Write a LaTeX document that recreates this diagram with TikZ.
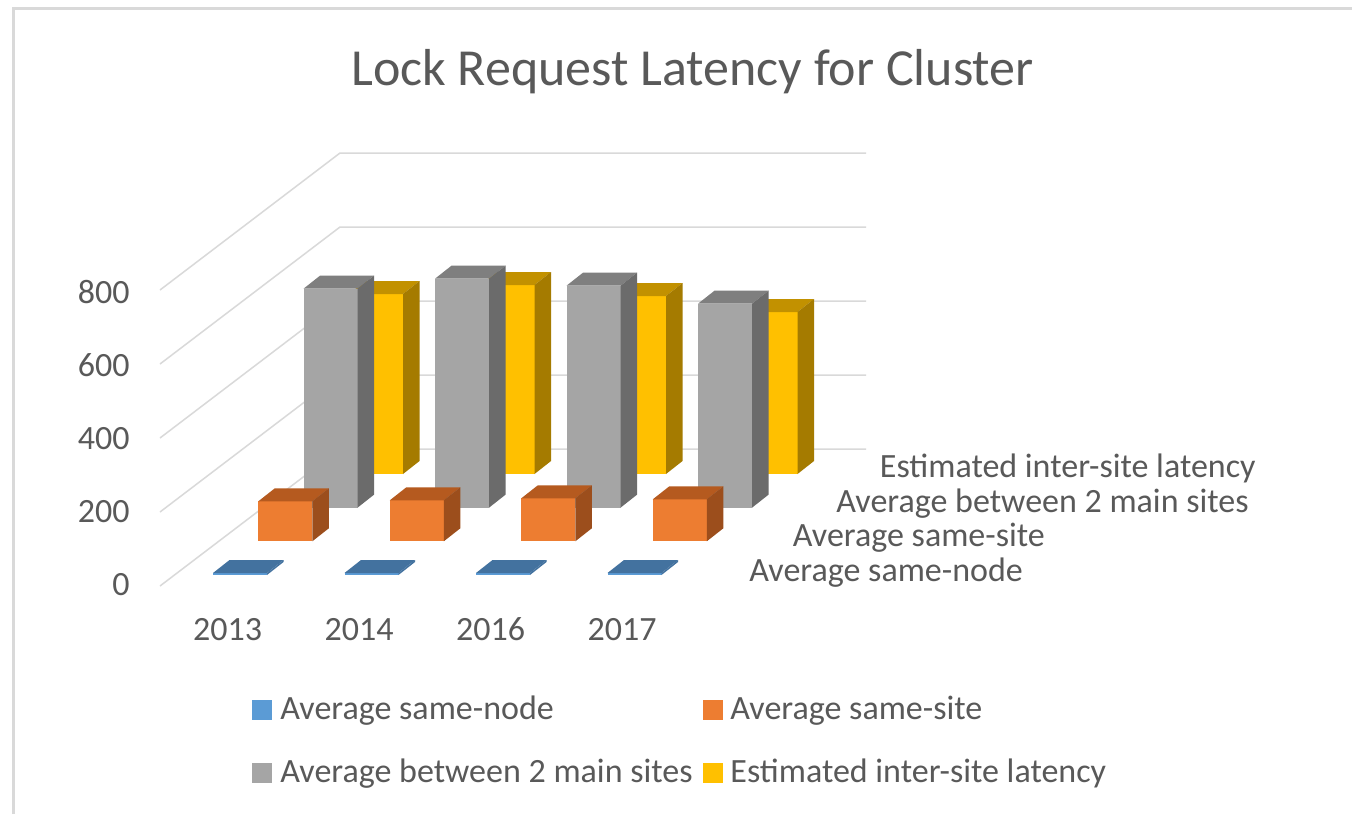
\documentclass[tikz,border=0pt]{standalone}
\usepackage{fontspec}
\setmainfont{Carlito}
\definecolor{txt}{HTML}{595959}
\definecolor{grid}{HTML}{D9D9D9}
\definecolor{gfront}{HTML}{A5A5A5}
\definecolor{gtop}{HTML}{7F7F7F}
\definecolor{gside}{HTML}{6B6B6B}
\definecolor{yfront}{HTML}{FFC000}
\definecolor{ytop}{HTML}{C29100}
\definecolor{yside}{HTML}{A57B00}
\definecolor{ofront}{HTML}{ED7D31}
\definecolor{otop}{HTML}{B55A1F}
\definecolor{oside}{HTML}{9C4E1C}
\definecolor{bfront}{HTML}{5B9BD5}
\definecolor{btop}{HTML}{43729F}
\newcommand\colbar[7]{%
  \fill[#5] (#1,#2) rectangle ++(#3,-#4);
  \fill[#6] (#1,#2-#4) -- ++(#3,0) -- ++(16.5,-13) -- ++(-#3,0) -- cycle;
  \fill[#7] (#1+#3,#2) -- ++(0,-#4) -- ++(16.5,-13) -- ++(0,#4) -- cycle;
}
\begin{document}
\begin{tikzpicture}[x=0.5pt,y=-0.5pt,
  gridline/.style={draw=grid,line width=0.75pt},
  lbl/.style={text=txt,font=\fontsize{17}{20}\selectfont,inner sep=0pt},
  ttl/.style={text=txt,font=\fontsize{26}{30}\selectfont,inner sep=0pt},
  legsq/.style={minimum size=10pt,inner sep=0pt}]
\useasboundingbox (0,0) rectangle (1352,814);
\fill[white] (0,0) rectangle (1352,814);
% frame
\draw[draw=grid,line width=1.5pt] (13.5,814) -- (13.5,8.5) -- (1352,8.5);
% title
\node[ttl,anchor=base] (title) at (692.5,85) {Lock Request Latency for Cluster};
% gridlines
\foreach \k in {0,...,4}{
  \draw[gridline] (160,586-74*\k) -- (340,449-74*\k) -- (866,449-74*\k);
}
% value axis labels
\node[lbl,anchor=base east] (v0) at (130,595) {0};
\node[lbl,anchor=base east] (v200) at (130,522) {200};
\node[lbl,anchor=base east] (v400) at (130,449) {400};
\node[lbl,anchor=base east] (v600) at (130,376) {600};
\node[lbl,anchor=base east] (v800) at (130,303) {800};
% yellow row
\colbar{349}{474}{54}{180}{yfront}{ytop}{yside}
\colbar{480.5}{474}{54}{189}{yfront}{ytop}{yside}
\colbar{612}{474}{54}{178}{yfront}{ytop}{yside}
\colbar{743.5}{474}{54}{162}{yfront}{ytop}{yside}
% gray row
\colbar{303.6}{507.6}{54}{219}{gfront}{gtop}{gside}
\colbar{435.1}{507.6}{54}{229}{gfront}{gtop}{gside}
\colbar{566.6}{507.6}{54}{222}{gfront}{gtop}{gside}
\colbar{698.1}{507.6}{54}{204}{gfront}{gtop}{gside}
% orange row
\colbar{258.3}{541.3}{54}{40}{ofront}{otop}{oside}
\colbar{389.8}{541.3}{54}{41}{ofront}{otop}{oside}
\colbar{521.3}{541.3}{54}{43}{ofront}{otop}{oside}
\colbar{652.8}{541.3}{54}{42}{ofront}{otop}{oside}
% blue row
\colbar{213}{575}{54}{2}{bfront}{btop}{btop}
\colbar{344.5}{575}{54}{2}{bfront}{btop}{btop}
\colbar{476}{575}{54}{2}{bfront}{btop}{btop}
\colbar{607.5}{575}{54}{2}{bfront}{btop}{btop}
% category labels
\node[lbl,anchor=base] (c2013) at (227.5,640) {2013};
\node[lbl,anchor=base] (c2014) at (359,640) {2014};
\node[lbl,anchor=base] (c2016) at (490.5,640) {2016};
\node[lbl,anchor=base] (c2017) at (622,640) {2017};
% depth labels
\node[lbl,anchor=base west] (d1) at (749,581) {Average same-node};
\node[lbl,anchor=base west] (d2) at (792.5,546.5) {Average same-site};
\node[lbl,anchor=base west] (d3) at (836,512) {Average between 2 main sites};
\node[lbl,anchor=base west] (d4) at (879.5,477.5) {Estimated inter-site latency};
% legend
\node[legsq,fill=bfront,anchor=north west] (lb) at (252,700) {};
\node[lbl,anchor=base west] (lbt) at (280,719) {Average same-node};
\node[legsq,fill=ofront,anchor=north west] (lo) at (703,700) {};
\node[lbl,anchor=base west] (lot) at (730,719) {Average same-site};
\node[legsq,fill=gfront,anchor=north west] (lg) at (252,763) {};
\node[lbl,anchor=base west] (lgt) at (280,782) {Average between 2 main sites};
\node[legsq,fill=yfront,anchor=north west] (ly) at (703,763) {};
\node[lbl,anchor=base west] (lyt) at (730,782) {Estimated inter-site latency};
\end{tikzpicture}
\end{document}
